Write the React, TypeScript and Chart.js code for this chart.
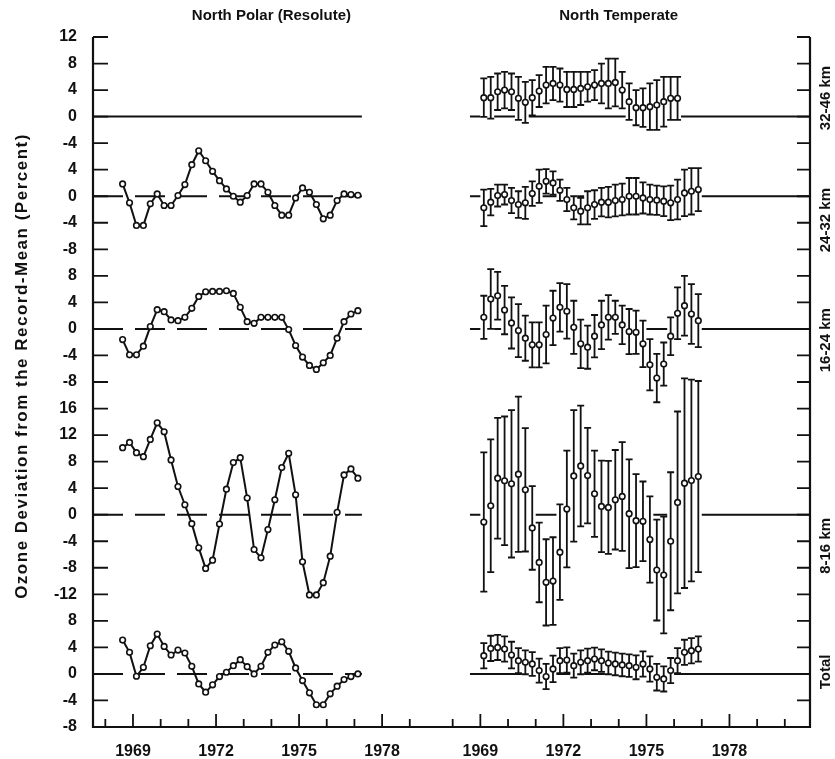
import React, { useEffect, useRef } from 'react';
import { Chart, registerables } from 'chart.js';

Chart.register(...registerables);

const FONT = "'Liberation Sans', Arial, Helvetica, sans-serif";
const INK = '#111';

// ---- tick labels / texts ----
const yTickLabels = ['12','8','4','0','-4','4','0','-4','-8','8','4','0','-4','-8','16','12','8','4','0','-4','-8','-12','8','4','0','-4','-8'];
const xMajorYears = [1969, 1972, 1975, 1978];
const leftTickYears = [1968, 1969, 1970, 1971, 1972, 1973, 1974, 1975, 1976, 1977, 1978, 1979];
const rightTickYears = [1968, 1969, 1970, 1971, 1972, 1973, 1974, 1975, 1976, 1977, 1978, 1979, 1980];
const panelTitles = ['North Polar (Resolute)', 'North Temperate'];
const layerLabels = ['32-46 km', '24-32 km', '16-24 km', '8-16 km', 'Total'];
const yAxisTitle = 'Ozone Deviation from the Record-Mean (Percent)';

// zero of each layer on the stacked axis (each tick = 4 %)
const layerZero = [-12, -24, -44, -72, -96];

// first season plotted
const leftStart = 1968.625;
const rightStart = 1969.125;

// ---- North Polar (Resolute), seasonal values ----
const polar24_32 = [1.85,-1.0,-4.4,-4.4,-1.15,0.35,-1.4,-1.4,0.1,1.75,4.75,6.85,5.35,3.75,2.35,1.1,0,-0.9,0.1,1.85,1.85,0.6,-1.4,-2.85,-2.85,-0.25,1.25,0.6,-1.25,-3.4,-2.85,-0.65,0.35,0.25,0.15];
const polar16_24 = [-1.6,-3.9,-3.9,-2.6,0.35,2.9,2.6,1.35,1.25,1.75,3.1,4.9,5.6,5.65,5.65,5.75,5.35,3.25,1.1,0.85,1.75,1.75,1.75,1.75,-0.1,-2.5,-4.25,-5.5,-6.1,-5.1,-4.0,-1.4,1.1,2.25,2.75];
const polar8_16 = [10.1,10.9,9.35,8.75,11.35,13.85,12.5,8.25,4.25,1.5,-1.35,-5.0,-8.1,-6.85,-1.4,3.85,7.85,8.6,2.5,-5.25,-6.5,-2.25,2.25,7.1,9.25,3.0,-7.1,-12.1,-12.1,-10.25,-6.25,0.35,6.0,6.9,5.5];
const polarTotal = [5.1,3.25,-0.35,1.0,4.25,6.0,4.15,2.85,3.6,3.15,1.15,-1.5,-2.75,-1.65,-0.4,0.25,1.25,2.15,1.1,0,1.15,3.25,4.35,4.85,3.4,0.9,-1.0,-2.85,-4.65,-4.65,-3.0,-1.85,-0.85,-0.4,0];

// ---- North Temperate, seasonal values and error half-widths ----
const temp32_46 = [2.85,2.85,3.75,4.0,3.75,2.75,2.15,2.85,3.85,4.75,5.0,4.75,4.1,4.1,4.25,4.5,4.75,5.0,5.0,5.15,4.0,2.25,1.35,1.35,1.5,1.75,2.25,2.75,2.75];
const temp32_46Err = [2.9,3.15,2.75,2.75,2.75,3.25,3.1,2.65,2.4,2.75,2.5,2.5,2.65,2.65,2.5,2.25,2.25,3.0,3.75,3.6,2.75,2.75,2.65,2.9,3.5,3.75,3.75,3.25,3.25];
const temp24_32 = [-1.75,-0.9,0.1,0.25,-0.65,-1.25,-1.0,0.4,1.5,2.25,2.0,0.9,-0.5,-1.75,-2.25,-1.75,-1.25,-0.9,-0.9,-0.65,-0.5,0,0,-0.25,-0.5,-0.6,-0.75,-1.0,-0.5,0.5,0.75,1.0];
const temp24_32Err = [2.75,2.0,1.65,1.5,1.9,2.0,2.4,1.85,2.5,1.85,1.75,1.6,1.75,1.75,2.0,2.5,2.15,2.15,2.3,2.4,2.4,2.75,2.75,2.35,2.25,2.2,2.25,2.6,3.0,3.5,3.5,3.25];
const temp16_24 = [1.75,4.5,5.0,2.85,0.9,-0.25,-1.4,-2.4,-2.4,-0.85,1.65,3.25,2.65,0.25,-2.25,-2.75,-1.1,0.6,1.75,1.75,0.6,-0.4,-0.5,-2.25,-5.4,-7.4,-5.3,-1.1,2.35,3.5,2.25,1.25];
const temp16_24Err = [3.25,4.5,3.6,3.65,3.85,4.0,3.4,3.4,3.4,4.35,4.1,3.65,4.1,4.0,3.65,3.25,3.2,3.65,3.35,2.5,2.9,3.4,3.25,3.5,3.85,3.65,3.25,2.85,3.9,4.5,4.5,4.0];
const temp8_16 = [-1.1,1.35,5.5,5.1,4.65,6.1,3.75,-2.0,-7.2,-10.2,-10.0,-5.65,0.85,5.85,7.35,5.9,3.15,1.25,1.1,2.25,2.75,0.15,-0.9,-1.0,-3.75,-8.35,-9.1,-4.0,1.85,4.75,5.15,5.75];
const temp8_16Err = [10.5,10,9.1,9.7,11.1,11.7,9.3,6.3,6,6.5,6.6,7.2,8.8,9.9,9.1,7.2,6.5,6.9,7,7.5,8.2,8.2,7,6,6.5,7.6,8.8,10.4,13.7,15.8,15.2,14.4];
const tempTotal = [2.75,3.85,4.0,3.75,2.85,2.0,1.75,1.5,0.5,-0.4,0.75,2.0,2.1,1.25,1.75,2.0,2.25,2.0,1.65,1.5,1.35,1.25,1.0,1.5,0.75,-0.5,-0.75,0.5,2.0,3.25,3.5,3.75];
const tempTotalErr = [1.9,1.9,1.9,1.9,2.0,1.9,1.8,1.8,1.8,1.9,2.0,1.9,1.9,1.8,1.8,1.8,1.7,1.7,1.7,1.7,1.7,1.7,1.8,1.9,1.9,2.0,1.9,1.9,1.9,1.9,1.9,1.9];

// ---- layout of the shared x axis (right block is shifted) ----
const RIGHT_SHIFT = 12.55;
const X_MIN = 1967.555;
const X_MAX = 1993.46;
const LEFT_ZERO_END = 1977.27;
const layerLabelPos = [-9.2, -27.6, -45.7, -76.7, -95.7];

const seasons = (start: number, n: number, shift: number) =>
  Array.from({ length: n }, (_, i) => start + i * 0.25 + shift);

const polarSeries: (number[] | null)[] = [null, polar24_32, polar16_24, polar8_16, polarTotal];
const tempSeries = [temp32_46, temp24_32, temp16_24, temp8_16, tempTotal];
const tempErrors = [temp32_46Err, temp24_32Err, temp16_24Err, temp8_16Err, tempTotalErr];

const ozonePlugin = {
  id: 'ozoneDecor',
  beforeDatasetsDraw(chart: any) {
    const { ctx, chartArea: ca, scales } = chart;
    const xs = scales.x;
    const ys = scales.y;
    ctx.save();
    ctx.strokeStyle = INK;
    ctx.lineCap = 'butt';

    // zero lines, left block
    layerZero.forEach((z, li) => {
      const y = ys.getPixelForValue(z);
      ctx.lineWidth = 2;
      ctx.setLineDash(li === 0 ? [] : [30, 12]);
      ctx.beginPath();
      ctx.moveTo(ca.left, y);
      ctx.lineTo(xs.getPixelForValue(LEFT_ZERO_END), y);
      ctx.stroke();
    });
    ctx.setLineDash([]);

    // zero lines, right block (broken where error bars cross)
    layerZero.forEach((z, li) => {
      const y = ys.getPixelForValue(z);
      const vals = tempSeries[li];
      const errs = tempErrors[li];
      const xsR = seasons(rightStart, vals.length, RIGHT_SHIFT);
      const h = (xs.getPixelForValue(xsR[0] + 0.25) - xs.getPixelForValue(xsR[0])) / 2;
      const covered: [number, number][] = [];
      vals.forEach((v, i) => {
        if (v - errs[i] <= 0 && v + errs[i] >= 0) {
          const px = xs.getPixelForValue(xsR[i]);
          covered.push([px - h, px + h]);
        }
      });
      let cur = xs.getPixelForValue(rightStart - 0.5 + RIGHT_SHIFT);
      const end = ca.right;
      ctx.lineWidth = 2;
      ctx.beginPath();
      covered.forEach(([a, b]) => {
        if (a > cur) {
          ctx.moveTo(cur, y);
          ctx.lineTo(a, y);
        }
        cur = Math.max(cur, b);
      });
      if (cur < end) {
        ctx.moveTo(cur, y);
        ctx.lineTo(end, y);
      }
      ctx.stroke();
    });

    // error bars
    ctx.lineWidth = 1.8;
    tempSeries.forEach((vals, li) => {
      const errs = tempErrors[li];
      const xsR = seasons(rightStart, vals.length, RIGHT_SHIFT);
      vals.forEach((v, i) => {
        const px = xs.getPixelForValue(xsR[i]);
        const yt = ys.getPixelForValue(layerZero[li] + v + errs[i]);
        const yb = ys.getPixelForValue(layerZero[li] + v - errs[i]);
        ctx.beginPath();
        ctx.moveTo(px, yt);
        ctx.lineTo(px, yb);
        ctx.moveTo(px - 3.5, yt);
        ctx.lineTo(px + 3.5, yt);
        ctx.moveTo(px - 3.5, yb);
        ctx.lineTo(px + 3.5, yb);
        ctx.stroke();
      });
    });

    // frame
    ctx.lineWidth = 2.2;
    ctx.beginPath();
    ctx.moveTo(ca.left, ca.top);
    ctx.lineTo(ca.left, ca.bottom);
    ctx.lineTo(ca.right, ca.bottom);
    ctx.lineTo(ca.right, ca.top);
    ctx.stroke();

    // y ticks (inward, both sides)
    ctx.lineWidth = 1.8;
    ys.ticks.forEach((t: any) => {
      const y = ys.getPixelForValue(t.value);
      ctx.beginPath();
      ctx.moveTo(ca.left, y);
      ctx.lineTo(ca.left + 15, y);
      ctx.moveTo(ca.right, y);
      ctx.lineTo(ca.right - 13, y);
      ctx.stroke();
    });

    // x ticks (inward)
    xs.ticks.forEach((t: any) => {
      const x = xs.getPixelForValue(t.value);
      const yr = Math.round(t.value > 1980 ? t.value - RIGHT_SHIFT : t.value);
      const len = xMajorYears.includes(yr) ? 13 : 8;
      ctx.beginPath();
      ctx.moveTo(x, ca.bottom);
      ctx.lineTo(x, ca.bottom - len);
      ctx.stroke();
    });
    ctx.restore();
  },
  afterDraw(chart: any) {
    const { ctx, scales } = chart;
    const xs = scales.x;
    const ys = scales.y;
    ctx.save();
    ctx.fillStyle = INK;
    ctx.textBaseline = 'middle';
    ctx.textAlign = 'center';
    ctx.font = `bold 15px ${FONT}`;
    ctx.fillText(panelTitles[0], xs.getPixelForValue(1974), 16);
    ctx.fillText(panelTitles[1], xs.getPixelForValue(1974 + RIGHT_SHIFT), 16);

    layerLabels.forEach((lab, i) => {
      ctx.save();
      ctx.translate(826, ys.getPixelForValue(layerLabelPos[i]));
      ctx.rotate(-Math.PI / 2);
      ctx.fillText(lab, 0, 0);
      ctx.restore();
    });

    ctx.font = `bold 17px ${FONT}`;
    try {
      (ctx as any).letterSpacing = '1.5px';
    } catch (e) {
      /* ignore */
    }
    ctx.save();
    ctx.translate(22, 366);
    ctx.rotate(-Math.PI / 2);
    ctx.fillText(yAxisTitle, 0, 0);
    ctx.restore();
    ctx.restore();
  },
};

export default function App() {
  const ref = useRef<HTMLCanvasElement | null>(null);

  useEffect(() => {
    if (!ref.current) return;
    const pointStyle = {
      pointRadius: 2.8,
      pointBackgroundColor: '#fff',
      pointBorderColor: INK,
      pointBorderWidth: 1.6,
    };
    const datasets: any[] = [];
    polarSeries.forEach((vals, li) => {
      if (!vals) return;
      const xv = seasons(leftStart, vals.length, 0);
      datasets.push({
        type: 'line',
        data: vals.map((v, i) => ({ x: xv[i], y: layerZero[li] + v })),
        borderColor: INK,
        borderWidth: 2,
        tension: 0,
        ...pointStyle,
      });
    });
    tempSeries.forEach((vals, li) => {
      const xv = seasons(rightStart, vals.length, RIGHT_SHIFT);
      datasets.push({
        type: 'line',
        showLine: false,
        data: vals.map((v, i) => ({ x: xv[i], y: layerZero[li] + v })),
        ...pointStyle,
      });
    });

    const tickFont = { family: FONT, size: 16, weight: 'bold' as const };
    const chart = new Chart(ref.current, {
      type: 'line',
      data: { datasets },
      plugins: [ozonePlugin],
      options: {
        responsive: false,
        animation: false,
        layout: { padding: { top: 37, right: 25, left: 0, bottom: 0 } },
        plugins: { legend: { display: false }, tooltip: { enabled: false } },
        scales: {
          x: {
            type: 'linear',
            min: X_MIN,
            max: X_MAX,
            grid: { display: false },
            border: { display: false },
            afterBuildTicks: (s: any) => {
              s.ticks = [
                ...leftTickYears.map((y) => ({ value: y })),
                ...rightTickYears.map((y) => ({ value: y + RIGHT_SHIFT })),
              ];
            },
            afterFit: (s: any) => {
              s.height = 32;
            },
            ticks: {
              autoSkip: false,
              maxRotation: 0,
              minRotation: 0,
              padding: 7,
              color: INK,
              font: tickFont,
              callback: (v: any) => {
                const yr = Math.round(v > 1980 ? v - RIGHT_SHIFT : v);
                return xMajorYears.includes(yr) ? String(yr) : '';
              },
            },
          },
          y: {
            type: 'linear',
            min: -104,
            max: 0,
            grid: { display: false },
            border: { display: false },
            afterBuildTicks: (s: any) => {
              s.ticks = yTickLabels.map((_, i) => ({ value: -4 * i }));
            },
            afterFit: (s: any) => {
              s.width = 93;
            },
            ticks: {
              autoSkip: false,
              padding: 8,
              color: INK,
              font: tickFont,
              callback: (v: any) => yTickLabels[Math.round(-v / 4)] ?? '',
            },
          },
        },
      },
    });
    return () => chart.destroy();
  }, []);

  return (
    <div style={{ position: 'absolute', left: 0, top: 0, width: 835, height: 759, background: '#fff' }}>
      <canvas ref={ref} width={835} height={759} style={{ display: 'block', width: 835, height: 759 }} />
    </div>
  );
}
